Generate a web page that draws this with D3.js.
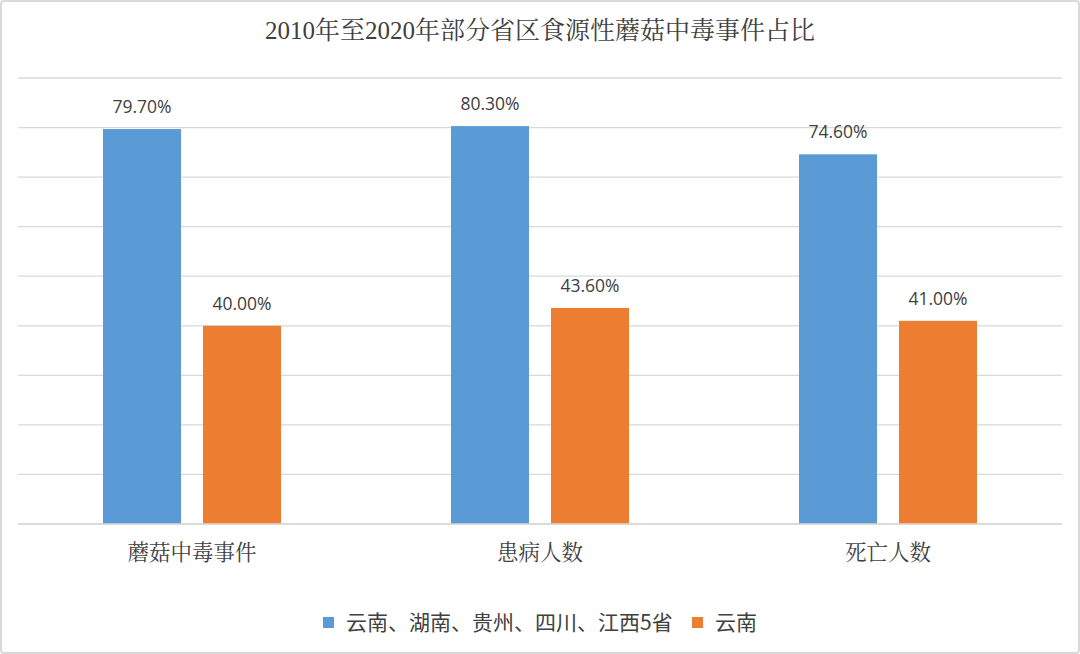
<!DOCTYPE html>
<html>
<head>
<meta charset="utf-8">
<script src="https://cdn.jsdelivr.net/npm/d3@7"></script>
<style>
  body { margin: 0; background: #fff; }
  svg { display: block; }
</style>
</head>
<body>
<div id="chart"></div>
<script>
var svgWidth = 1080;
var svgHeight = 654;

var categories = ["蘑菇中毒事件", "患病人数", "死亡人数"];
var seriesNames = ["云南、湖南、贵州、四川、江西5省", "云南"];
var fiveProvinces = [79.7, 80.3, 74.6];
var yunnan = [40.0, 43.6, 41.0];
var colors = ["#5B9BD5", "#ED7D31"];
var yTicks = [0, 10, 20, 30, 40, 50, 60, 70, 80, 90];

var margin = { top: 78, right: 18, bottom: 130, left: 18 };
var width = svgWidth - margin.left - margin.right;
var height = svgHeight - margin.top - margin.bottom;

var svg = d3.select("#chart")
  .append("svg")
  .attr("width", svgWidth)
  .attr("height", svgHeight);

// outer frame
svg.append("rect")
  .attr("x", 1).attr("y", 1)
  .attr("width", svgWidth - 2).attr("height", svgHeight - 2)
  .attr("rx", 3)
  .attr("fill", "#fff")
  .attr("stroke", "#d9d9d9")
  .attr("stroke-width", 2);

svg.append("text")
  .attr("x", svgWidth / 2)
  .attr("y", 39)
  .attr("text-anchor", "middle")
  .style("font-family", "'Liberation Serif', 'Noto Serif CJK SC', 'Noto Sans CJK SC', serif")
  .style("font-size", "25px")
  .style("fill", "#404040")
  .text("2010年至2020年部分省区食源性蘑菇中毒事件占比");

var chartGroup = svg.append("g")
  .attr("transform", `translate(${margin.left}, ${margin.top})`);

var x0 = d3.scaleBand()
  .domain(categories)
  .range([0, width]);

var x1 = d3.scaleBand()
  .domain([0, 1])
  .range([85, x0.bandwidth() - 85])
  .paddingInner(0.22);

var y = d3.scaleLinear()
  .domain([0, 90])
  .range([height, 0]);

// gridlines
chartGroup.append("g")
  .selectAll("line")
  .data(yTicks)
  .enter()
  .append("line")
  .attr("x1", 0)
  .attr("x2", width)
  .attr("y1", d => y(d))
  .attr("y2", d => y(d))
  .attr("stroke", "#d9d9d9")
  .attr("stroke-width", 1.3);

var rows = categories.map(function(c, i) {
  return { cat: c, values: [fiveProvinces[i], yunnan[i]] };
});

var groups = chartGroup.selectAll(".grp")
  .data(rows)
  .enter()
  .append("g")
  .attr("transform", d => `translate(${x0(d.cat)}, 0)`);

groups.selectAll("rect")
  .data(d => d.values.map((v, k) => ({ k: k, v: v })))
  .enter()
  .append("rect")
  .attr("x", d => x1(d.k))
  .attr("width", x1.bandwidth())
  .attr("y", d => y(d.v))
  .attr("height", d => height - y(d.v))
  .attr("fill", d => colors[d.k]);

groups.selectAll(".lbl")
  .data(d => d.values.map((v, k) => ({ k: k, v: v })))
  .enter()
  .append("text")
  .attr("x", d => x1(d.k) + x1.bandwidth() / 2)
  .attr("y", d => y(d.v) - 16)
  .attr("text-anchor", "middle")
  .style("font-family", "'Open Sans', 'Noto Sans', sans-serif")
  .style("font-size", "17.5px")
  .style("fill", "#404040")
  .text(d => d.v.toFixed(2) + "%");

// baseline
chartGroup.append("line")
  .attr("x1", 0).attr("x2", width)
  .attr("y1", height).attr("y2", height)
  .attr("stroke", "#d9d9d9")
  .attr("stroke-width", 1.5);

// category labels
var bottomAxis = d3.axisBottom(x0).tickSize(0).tickPadding(0);
var axisG = chartGroup.append("g")
  .attr("transform", `translate(0, ${height})`)
  .call(bottomAxis);
axisG.select(".domain").remove();
axisG.selectAll("text")
  .attr("dy", null)
  .attr("y", 36)
  .style("font-family", "'Noto Serif CJK SC', 'Noto Sans CJK SC', serif")
  .style("font-size", "21.5px")
  .style("fill", "#404040");

// legend
var legend = svg.append("g")
  .style("font-family", "'Noto Sans CJK SC', sans-serif")
  .style("font-size", "21px")
  .style("fill", "#404040");

var legendX = [323, 692];
seriesNames.forEach(function(name, i) {
  legend.append("rect")
    .attr("x", legendX[i])
    .attr("y", 617)
    .attr("width", 11)
    .attr("height", 11)
    .attr("fill", colors[i]);
  legend.append("text")
    .attr("x", legendX[i] + 23)
    .attr("y", 630)
    .text(name);
});
</script>
</body>
</html>
